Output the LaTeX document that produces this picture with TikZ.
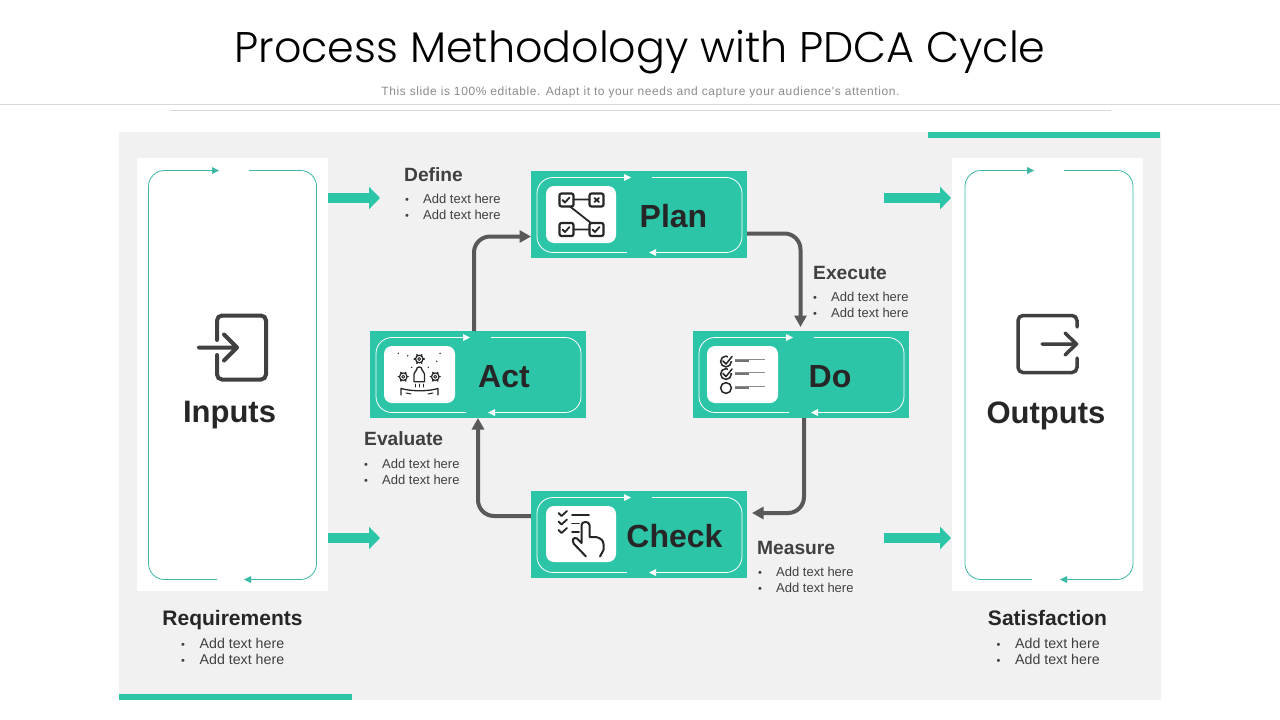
\documentclass[tikz,border=0pt]{standalone}
\usepackage{fontspec}
\setmainfont{Liberation Sans}
\newfontfamily\titlefont{Poppins Light}
\newfontfamily\subfont[LetterSpace=5]{Liberation Sans}
\usetikzlibrary{
  calc,
  arrows.meta,
}
\definecolor{teal1}{HTML}{2DC5A8}
\definecolor{tealline}{HTML}{3DB8A6}
\definecolor{panel}{HTML}{F1F1F1}
\definecolor{ink}{HTML}{262626}
\definecolor{ink2}{HTML}{404040}
\definecolor{flow}{HTML}{595959}
\tikzset{
  stepbox/.style = {
      rectangle,
      fill=teal1,
      minimum width=216,
      minimum height=87,
      inner sep=0pt,
    },
  iconbox/.style = {
      draw=none,
      fill=white,
      rounded corners=8,
    },
  steplabel/.style = {
      font=\fontsize{32}{32}\selectfont\bfseries,
      text=ink,
      inner sep=0pt,
      anchor=base,
    },
  sidelabel/.style = {
      steplabel,
      font=\fontsize{31}{31}\selectfont\bfseries,
    },
  head/.style = {
      font=\fontsize{19.2}{20}\selectfont\bfseries,
      text=ink2,
      inner sep=0pt,
      anchor=base west,
    },
  sidehead/.style = {
      font=\fontsize{21}{22}\selectfont\bfseries,
      text=ink,
      inner sep=0pt,
      anchor=base,
    },
  item/.style = {
      font=\fontsize{13}{14}\selectfont,
      text=ink2,
      inner sep=0pt,
      anchor=base west,
    },
  sideitem/.style = {
      item,
      font=\fontsize{14.2}{15}\selectfont,
    },
  flowline/.style = {
      draw=flow,
      line width=4,
      rounded corners=16,
      -{Triangle[length=11.5,width=12]},
    },
  bigarrow/.style = {
      draw=teal1,
      line width=10,
      -{Triangle[length=11,width=22]},
    },
  icon/.style = {
      draw=ink,
      line width=1.8,
      line cap=round,
      line join=round,
    },
  sideicon/.style = {
      draw=ink2,
      line width=4,
      line cap=round,
      rounded corners=5,
    },
}
\newcommand{\bul}[1]{\makebox[#1][l]{\fontsize{11}{11}\selectfont\textbullet}}
% outline with two gaps, #6 is the arrow tip offset on top
\newcommand{\loopframe}[9]{%
  \draw[draw=#9, line width=.8, rounded corners=16]
    (#5,#2) -- (#1,#2) -- (#1,#4) -- (#6,#4);
  \draw[draw=#9, line width=.8, rounded corners=16]
    (#7,#2) -- (#3,#2) -- (#3,#4) -- (#8,#4);
  \fill[#9] (#5,#2) ++(0,-3.5) -- ++(7,3.5) -- ++(-7,3.5) -- cycle;
  \fill[#9] (#8,#4) ++(0,-3.5) -- ++(-7,3.5) -- ++(7,3.5) -- cycle;
}
\newcommand{\gearicon}[2]{%
  \draw[icon, line width=1.2] (#1,#2) circle (3.8);
  \draw[icon, line width=.9] (#1,#2) circle (1.5);
  \foreach \a in {0,60,...,300} \draw[icon, line width=1.5] (#1,#2) ++(\a:3.8) -- ++(\a:1.2);
}
\begin{document}
\begin{tikzpicture}[x=1pt, y=-1pt]
    \useasboundingbox (0,0) rectangle (1280,720);
    \fill[white] (0,0) rectangle (1280,720);

    \node[font=\titlefont\fontsize{42.85}{46}\selectfont, text=black, inner sep=0pt, anchor=base] (title) at (640,62) {Process Methodology with PDCA Cycle};
    \node[font=\subfont\fontsize{12}{13}\selectfont, text=black!45, inner sep=0pt, anchor=base] (subtitle) at (640.5,95.5) {This slide is 100\% editable. Adapt it to your needs and capture your audience's attention.};
    \draw[black!15] (0,104.5) -- (1280,104.5);
    \draw[black!15] (170,110.5) -- (1111,110.5);

    \fill[panel] (119,132) rectangle (1161,700);
    \fill[teal1] (928,132) rectangle (1160,138);
    \fill[teal1] (119,694) rectangle (352,700);

    % side panels
    \node[fill=white, minimum width=191, minimum height=433, inner sep=0pt] (inputs) at (232.5,374.5) {};
    \node[fill=white, minimum width=191, minimum height=433, inner sep=0pt] (outputs) at (1047.5,374.5) {};
    \loopframe{148.5}{170.5}{316.5}{579.5}{212}{217}{249}{251}{tealline}
    \loopframe{965}{170.5}{1133}{579.5}{1027}{1032}{1064}{1067}{tealline}

    % steps
    \node[stepbox] (plan) at (639,214.5) {};
    \node[stepbox] (act) at (478,374.5) {};
    \node[stepbox] (do) at (800.5,374.5) {};
    \node[stepbox] (check) at (639,534.5) {};
    \loopframe{537}{177.5}{742}{252.5}{624}{627}{652}{656}{white}
    \loopframe{376}{337.5}{581}{412.5}{463}{466}{491}{495}{white}
    \loopframe{699}{337.5}{904}{412.5}{786}{789}{814}{818}{white}
    \loopframe{537}{497.5}{742}{572.5}{624}{627}{652}{656}{white}
    \fill[iconbox] (546,186) rectangle (616,243);
    \fill[iconbox] (384,346) rectangle (455,403);
    \fill[iconbox] (707,346) rectangle (778,403);
    \fill[iconbox] (546,506) rectangle (616,562);

    \node[steplabel] (plantext) at (673.5,227) {Plan};
    \node[steplabel] (acttext) at (504,387) {Act};
    \node[steplabel] (dotext) at (830,387) {Do};
    \node[steplabel] (checktext) at (674.5,547) {Check};
    \node[sidelabel] (inputstext) at (229.5,422) {Inputs};
    \node[sidelabel] (outputstext) at (1046,423) {Outputs};

    % cycle
    \coordinate (actout) at (474,331);
    \coordinate (planin) at (531,236.5);
    \coordinate (planout) at (747,233.5);
    \coordinate (doin) at (800.5,327);
    \coordinate (doout) at (804,418);
    \coordinate (checkin) at (752,513);
    \coordinate (checkout) at (531,516);
    \coordinate (actin) at (478,418);
    \draw[flowline] (actout) |- (planin);
    \draw[flowline] (planout) -| (doin);
    \draw[flowline] (doout) |- (checkin);
    \draw[flowline] (checkout) -| (actin);

    % teal arrows
    \coordinate (in1) at (380,198);
    \coordinate (in2) at (380,538);
    \coordinate (out1) at (884,198);
    \coordinate (out2) at (884,538);
    \coordinate (tip1) at (951,198);
    \coordinate (tip2) at (951,538);
    \draw[bigarrow] (inputs.east |- in1) -- (in1);
    \draw[bigarrow] (inputs.east |- in2) -- (in2);
    \draw[bigarrow] (out1) -- (tip1);
    \draw[bigarrow] (out2) -- (tip2);

    % texts
    \node[head] (define) at (404,181) {Define};
    \node[item] (define1) at (405,203.5) {\bul{18pt}Add text here};
    \node[item] (define2) at (405,219.5) {\bul{18pt}Add text here};
    \node[head] (execute) at (813,279) {Execute};
    \node[item] (execute1) at (813,301.5) {\bul{18pt}Add text here};
    \node[item] (execute2) at (813,317.5) {\bul{18pt}Add text here};
    \node[head] (evaluate) at (364,445) {Evaluate};
    \node[item] (evaluate1) at (364,468.5) {\bul{18pt}Add text here};
    \node[item] (evaluate2) at (364,484.5) {\bul{18pt}Add text here};
    \node[head] (measure) at (757,554) {Measure};
    \node[item] (measure1) at (758,576.5) {\bul{18pt}Add text here};
    \node[item] (measure2) at (758,592.5) {\bul{18pt}Add text here};
    \node[sidehead] (requirements) at (232.5,625) {Requirements};
    \node[sideitem] (requirements1) at (181,648.5) {\bul{18.5pt}Add text here};
    \node[sideitem] (requirements2) at (181,664.5) {\bul{18.5pt}Add text here};
    \node[sidehead] (satisfaction) at (1047.5,625) {Satisfaction};
    \node[sideitem] (satisfaction1) at (996.5,648.5) {\bul{18.5pt}Add text here};
    \node[sideitem] (satisfaction2) at (996.5,664.5) {\bul{18.5pt}Add text here};

    % side icons
    \draw[sideicon] (217,340) -- (217,315.5) -- (266,315.5) -- (266,379.5) -- (217,379.5) -- (217,355);
    \draw[sideicon, rounded corners=0, line join=round] (199,347.5) -- (237,347.5) (224,334.5) -- (237,347.5) -- (224,360.5);
    \draw[sideicon, line width=3.5] (1077,327) -- (1077,315.5) -- (1018,315.5) -- (1018,372.5) -- (1077,372.5) -- (1077,358);
    \draw[sideicon, line width=3.5, rounded corners=0, line join=round] (1042,344) -- (1076.5,344) (1065,333) -- (1076.5,344) -- (1065,355);

    % plan icon
    \foreach \x/\y in {559.5/193.5, 589.5/193.5, 559.5/223, 589.5/223}
      \draw[icon, line width=2.2, rounded corners=2] (\x,\y) rectangle ++(14,13);
    \draw[icon] (573.5,199.5) -- (589.5,199.5) (573.5,229.5) -- (589.5,229.5) (570,206.5) -- (591,223);
    \foreach \x/\y in {562.5/200, 562.5/229.5, 592.5/229.5}
      \draw[icon] (\x,\y) -- ++(2.5,2.5) -- ++(4.5,-5);
    \draw[icon] (594.5,198) -- ++(4.5,4) ++(-4.5,0) -- ++(4.5,-4);

    % act icon
    \gearicon{419.3}{359}
    \gearicon{403.3}{376.7}
    \gearicon{435.3}{376.7}
    \foreach \x/\y in {398.3/353.3, 407.7/355.7, 440/353.3, 436.7/361.3, 411.7/367.3, 428.3/367.3}
      \fill[ink] (\x,\y) circle (.8);
    \draw[icon, line width=1.3] (414,381.7) -- (414,374) .. controls (414,371) and (416.5,372) .. (416.5,370) .. controls (416,366) and (422.5,366) .. (422,370) .. controls (422,372) and (424.5,371) .. (424.5,374) -- (424.5,381.7) -- cycle;
    \draw[icon, line width=1] (415,384) -- (415,387) (419.3,384) -- (419.3,387) (423.5,384) -- (423.5,387);
    \draw[icon, line width=1.3] (401,395) -- (401,388.5) .. controls (412,391.5) and (428,391.5) .. (438,388.5) -- (438,395);
    \draw[icon, line width=1] (406,393) -- (411,394) (428,394) -- (433,393);

    % do icon
    \foreach \y in {361.5, 374, 388}
      \draw[icon, line width=1.5] (726,\y) circle (5.4);
    \foreach \y in {361.5, 374} {
      \fill[white] (728,\y-7) rectangle ++(5,6);
      \draw[icon, line width=1.5] (723,\y-.5) -- ++(3,3) -- ++(6,-7.5);
    }
    \foreach \y in {359, 372, 386} {
      \draw[black!45, line width=1] (735,\y) -- (765,\y);
      \draw[black!55, line width=2] (735,\y+2) -- (749,\y+2);
    }

    % check icon
    \foreach \y in {515, 523.5, 532}
      \draw[icon, line width=1.8] (558.5,\y-2) -- ++(3,3) -- ++(5.5,-5);
    \draw[icon, line width=1.6] (572,515) -- (589,515) (572,523.5) -- (579,523.5) (572,532) -- (579,532);
    \draw[icon, line width=2] (586,556.5) -- (574,544) .. controls (571,540) and (574,536.5) .. (577,538.5) -- (581.5,543) -- (581.5,525) .. controls (581.5,521) and (589.5,521) .. (589.5,525) -- (589.5,537) -- (596,537) .. controls (600,538) and (603.5,540) .. (603.5,544) -- (603.5,550) -- (600,556.5);
\end{tikzpicture}
\end{document}
